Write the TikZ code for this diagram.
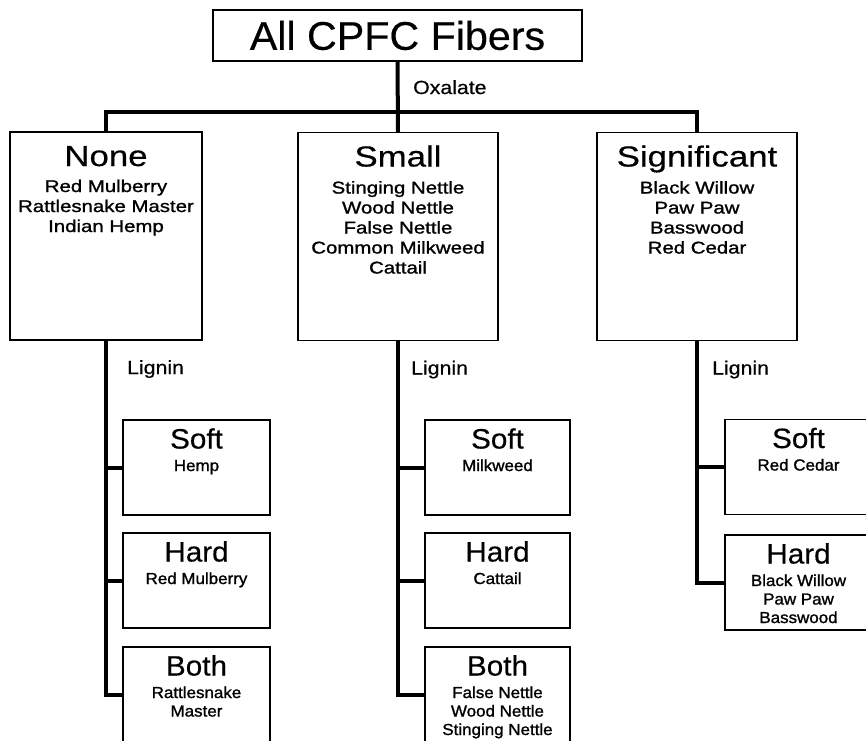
\documentclass[tikz,border=0pt]{standalone}
\usepackage{fontspec}
\setmainfont{Liberation Sans}
\newfontfamily\fTitle[FakeStretch=1.03,FakeBold=0.4]{Liberation Sans}
\newfontfamily\fA[FakeStretch=1.2,FakeBold=0.4]{Liberation Sans}
\newfontfamily\fAb[FakeStretch=1.2,FakeBold=1.2]{Liberation Sans}
\newfontfamily\fB[FakeStretch=1.06,FakeBold=0.4]{Liberation Sans}
\newfontfamily\fBb[FakeStretch=1.06,FakeBold=1.3]{Liberation Sans}
\newfontfamily\fL[FakeStretch=1.12,FakeBold=0.6]{Liberation Sans}
\newcommand\mylines[1]{\begin{tabular}[t]{@{}c@{}}#1\end{tabular}}
\begin{document}
\begin{tikzpicture}[x=1pt,y=-1pt,
  box/.style={draw, line width=1.5pt, inner sep=0pt, outer sep=0pt},
  upbox/.style={box, minimum width=#1, minimum height=208pt},
  lowbox/.style={box, minimum width=147pt, minimum height=95pt},
  conn/.style={line width=4pt},
  headA/.style={anchor=base, font={\fA\fontsize{29}{32}\selectfont}},
  bodyA/.style={anchor=base, inner sep=0pt, font={\fAb\fontsize{17}{20}\selectfont}},
  headB/.style={anchor=base, font={\fB\fontsize{28}{30}\selectfont}},
  bodyB/.style={anchor=base, inner sep=0pt, font={\fBb\fontsize{16}{18.5}\selectfont}},
  lab/.style={anchor=base west, inner sep=0pt, font={\fL\fontsize{19}{22}\selectfont}}]
\useasboundingbox (0,0) rectangle (866,740);
\clip (0,0) rectangle (866,740);

% top
\node[box, minimum width=369pt, minimum height=51pt, font={\fTitle\fontsize{40}{44}\selectfont}] (top) at (397.5,35.5) {All CPFC Fibers};

% first level
\node[upbox=192pt] (none) at (106,236) {};
\node[upbox=200pt] (small) at (398,236.5) {};
\node[upbox=200pt] (sig) at (697,236.5) {};

\node[headA] (none-h) at ([yshift=-34pt]none.north) {None};
\node[bodyA] (none-b) at ([yshift=-60pt]none.north) {\mylines{Red Mulberry\\Rattlesnake Master\\Indian Hemp}};
\node[headA] (small-h) at ([yshift=-34pt]small.north) {Small};
\node[bodyA] (small-b) at ([yshift=-61pt]small.north) {\mylines{Stinging Nettle\\Wood Nettle\\False Nettle\\Common Milkweed\\Cattail}};
\node[headA] (sig-h) at ([yshift=-34pt]sig.north) {Significant};
\node[bodyA] (sig-b) at ([yshift=-61pt]sig.north) {\mylines{Black Willow\\Paw Paw\\Basswood\\Red Cedar}};

\draw[conn] (none.north) -- ++(0,-20) -| (sig.north);
\draw[conn] (top.south) -- (small.north);
\node[lab] (ox) at ([xshift=15.5pt,yshift=-33pt]top.south) {Oxalate};

% second level: left
\node[lowbox] (lsoft) at (196.5,467.5) {};
\node[lowbox] (lhard) at (196.5,580.5) {};
\node[lowbox] (lboth) at (196.5,694.5) {};
% middle
\node[lowbox, minimum width=145pt] (msoft) at (497.5,467.5) {};
\node[lowbox, minimum width=145pt] (mhard) at (497.5,580.5) {};
\node[lowbox, minimum width=145pt] (mboth) at (497.5,694.5) {};
% right
\node[lowbox] (rsoft) at (798.5,467) {};
\node[lowbox] (rhard) at (798.5,582.5) {};

\foreach \b/\h/\t in {lsoft/Soft/Hemp, lhard/Hard/Red Mulberry, lboth/Both/Rattlesnake\\Master,
  msoft/Soft/Milkweed, mhard/Hard/Cattail, mboth/Both/False Nettle\\Wood Nettle\\Stinging Nettle,
  rsoft/Soft/Red Cedar, rhard/Hard/Black Willow\\Paw Paw\\Basswood}{
  \node[headB] (\b-h) at ([yshift=-28.5pt]\b.north) {\h};
  \node[bodyB] (\b-b) at ([yshift=-51pt]\b.north) {\mylines{\t}};
}

% lignin connectors
\draw[conn] (none.south) |- (lboth.west);
\draw[conn] (none.south |- lsoft.west) -- (lsoft.west);
\draw[conn] (none.south |- lhard.west) -- (lhard.west);
\draw[conn] (small.south) |- (mboth.west);
\draw[conn] (small.south |- msoft.west) -- (msoft.west);
\draw[conn] (small.south |- mhard.west) -- (mhard.west);
\draw[conn] (sig.south) |- (rhard.west);
\draw[conn] (sig.south |- rsoft.west) -- (rsoft.west);

\node[lab] (lig-l) at ([xshift=21pt,yshift=-34pt]none.south) {Lignin};
\node[lab] (lig-m) at ([xshift=13pt,yshift=-34pt]small.south) {Lignin};
\node[lab] (lig-r) at ([xshift=15pt,yshift=-34pt]sig.south) {Lignin};
\end{tikzpicture}
\end{document}
